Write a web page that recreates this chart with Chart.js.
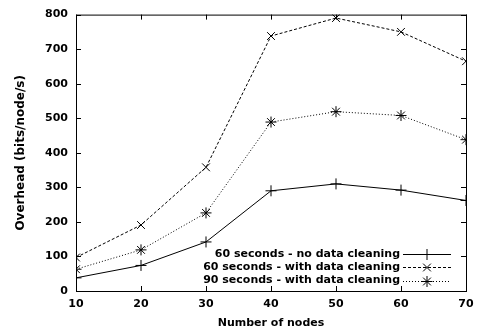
<!DOCTYPE html>
<html>
<head>
<meta charset="utf-8">
<script src="https://cdn.jsdelivr.net/npm/chart.js@4"></script>
<style>
  html, body { margin: 0; padding: 0; background: #fff; }
  #wrap { width: 483px; height: 336px; }
</style>
</head>
<body>
<div id="wrap"><canvas id="chart" width="483" height="336"></canvas></div>
<script>
// data
const nodes = [10, 20, 30, 40, 50, 60, 70];
const noCleaning60 = [38, 74, 142, 290, 310, 292, 262];
const cleaning60 = [97, 191, 358, 738, 790, 750, 665];
const cleaning90 = [63, 119, 226, 489, 519, 508, 438];
const seriesLabels = [
    '60 seconds - no data cleaning',
    '60 seconds - with data cleaning',
    '90 seconds - with data cleaning'
];
const yTicks = [0, 100, 200, 300, 400, 500, 600, 700, 800];

const FONT = '"DejaVu Sans", sans-serif';

function makeSeries(label, values, dash, style) {
    return {
        label: label,
        data: nodes.map((x, i) => ({ x: x, y: values[i] })),
        borderColor: '#000',
        backgroundColor: '#000',
        borderWidth: 1,
        borderDash: dash,
        pointStyle: style,
        pointRadius: 5.5,
        pointBorderWidth: 1,
        pointBorderColor: '#000',
        tension: 0
    };
}

// frame + inward ticks + legend, gnuplot style
const framePlugin = {
    id: 'frame',
    afterDraw(chart) {
        const ctx = chart.ctx;
        const a = chart.chartArea;
        const xs = chart.scales.x, ys = chart.scales.y;
        ctx.save();
        ctx.strokeStyle = '#000';
        ctx.lineWidth = 1;
        ctx.setLineDash([]);
        ctx.strokeRect(a.left + 0.5, a.top + 0.5, a.right - a.left, a.bottom - a.top);
        ctx.beginPath();
        const t = 5;
        yTicks.forEach(v => {
            const py = Math.round(ys.getPixelForValue(v)) + 0.5;
            ctx.moveTo(a.left, py); ctx.lineTo(a.left + t, py);
            ctx.moveTo(a.right, py); ctx.lineTo(a.right - t, py);
        });
        nodes.forEach(v => {
            const px = Math.round(xs.getPixelForValue(v)) + 0.5;
            ctx.moveTo(px, a.bottom); ctx.lineTo(px, a.bottom - t);
            ctx.moveTo(px, a.top); ctx.lineTo(px, a.top + t);
        });
        ctx.stroke();

        // legend
        ctx.font = 'bold 11px ' + FONT;
        ctx.textAlign = 'right';
        ctx.textBaseline = 'middle';
        ctx.fillStyle = '#000';
        const textRight = 400, lineL = 403, lineR = 451;
        chart.data.datasets.forEach((ds, i) => {
            const y = 254 + i * 13.3;
            ctx.fillText(ds.label, textRight, y);
            ctx.beginPath();
            ctx.setLineDash(ds.borderDash);
            ctx.moveTo(lineL, Math.round(y) + 0.5);
            ctx.lineTo(lineR, Math.round(y) + 0.5);
            ctx.stroke();
            ctx.setLineDash([]);
            Chart.helpers.drawPoint(ctx, { pointStyle: ds.pointStyle, radius: 5.5, borderWidth: 1 },
                427, Math.round(y) + 0.5);
        });
        ctx.restore();
    }
};

new Chart(document.getElementById('chart'), {
    type: 'line',
    data: {
        datasets: [
            makeSeries(seriesLabels[0], noCleaning60, [], 'cross'),
            makeSeries(seriesLabels[1], cleaning60, [3, 2], 'crossRot'),
            makeSeries(seriesLabels[2], cleaning90, [1, 2], 'star')
        ]
    },
    options: {
        responsive: false,
        animation: false,
        layout: { padding: { top: 11, right: 17, left: 0, bottom: 0 } },
        plugins: {
            legend: { display: false },
            tooltip: { enabled: false }
        },
        scales: {
            x: {
                type: 'linear',
                min: 10,
                max: 70,
                afterFit: s => { s.height = 45; },
                afterBuildTicks: s => { s.ticks = nodes.map(v => ({ value: v })); },
                grid: { display: false, drawTicks: false },
                border: { display: false },
                ticks: {
                    color: '#000',
                    padding: 7,
                    maxRotation: 0,
                    font: { family: FONT, size: 11, weight: 'bold' }
                },
                title: {
                    display: true,
                    text: 'Number of nodes',
                    color: '#000',
                    padding: { top: 0, bottom: 6 },
                    font: { family: FONT, size: 11, weight: 'bold' }
                }
            },
            y: {
                min: 0,
                max: 800,
                afterFit: s => { s.width = 76; },
                afterBuildTicks: s => { s.ticks = yTicks.map(v => ({ value: v })); },
                grid: { display: false, drawTicks: false },
                border: { display: false },
                ticks: {
                    color: '#000',
                    padding: 8,
                    font: { family: FONT, size: 11, weight: 'bold' }
                },
                title: {
                    display: true,
                    text: 'Overhead (bits/node/s)',
                    color: '#000',
                    padding: { top: 14, bottom: 0 },
                    font: { family: FONT, size: 12, weight: 'bold' }
                }
            }
        }
    },
    plugins: [framePlugin]
});
</script>
</body>
</html>
